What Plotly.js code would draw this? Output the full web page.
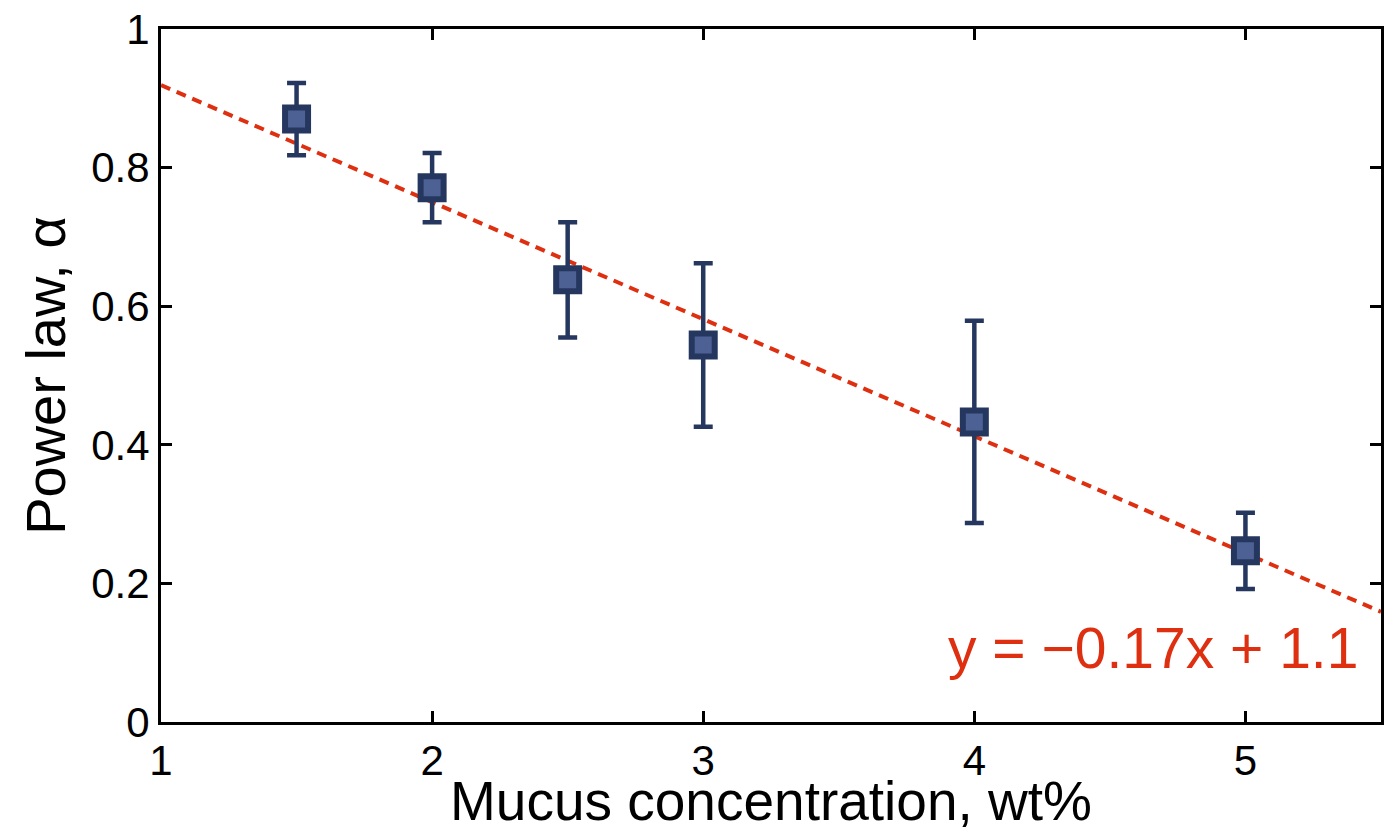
<!DOCTYPE html>
<html>
<head>
<meta charset="utf-8">
<script src="https://cdn.plot.ly/plotly-3.0.1.min.js"></script>
<style>html,body{margin:0;padding:0;background:#fff;}#chart{width:1395px;height:829px;}</style>
</head>
<body>
<div id="chart"></div>
<script>
// Data
const concentration = [1.5, 2, 2.5, 3, 4, 5];
const alpha = [0.870, 0.771, 0.638, 0.544, 0.433, 0.247];
const alphaErr = [0.052, 0.050, 0.083, 0.118, 0.146, 0.055];
const fitX = [1, 5.5];
const fitY = [0.919, 0.159];
const xTicks = [1, 2, 3, 4, 5];
const yTicks = [0, 0.2, 0.4, 0.6, 0.8, 1];
const yTickText = ['0', '0.2', '0.4', '0.6', '0.8', '1'];
const xTitle = 'Mucus concentration, wt%';
const yTitle = 'Power law, \u03b1';
const equationText = 'y = \u22120.17x + 1.1';

const navy = '#26375f';
const fill = '#4d6194';
const red = '#de3010';
const font = 'Liberation Sans, Arial, Helvetica, sans-serif';

const traces = [
  {
    x: fitX, y: fitY, type: 'scatter', mode: 'lines',
    line: {color: red, width: 4, dash: '10px,7px'},
    hoverinfo: 'skip', showlegend: false
  },
  {
    x: concentration, y: alpha, type: 'scatter', mode: 'markers',
    marker: {symbol: 'square', size: 23, color: fill, line: {color: navy, width: 6}},
    error_y: {type: 'data', array: alphaErr, visible: true, color: navy, thickness: 4.5, width: 9.5},
    showlegend: false
  }
];

const axisCommon = {
  showline: true, linecolor: '#000', linewidth: 3, mirror: 'ticks',
  ticks: 'inside', ticklen: 11, tickwidth: 3, tickcolor: '#000',
  showgrid: false, zeroline: false,
  tickfont: {family: font, size: 42, color: '#000'}
};

const layout = {
  width: 1395, height: 829,
  margin: {l: 161, r: 14, t: 29, b: 107},
  paper_bgcolor: '#fff', plot_bgcolor: '#fff',
  xaxis: Object.assign({}, axisCommon, {
    range: [1, 5.5], tickvals: xTicks, ticktext: xTicks.map(String)
  }),
  yaxis: Object.assign({}, axisCommon, {
    range: [0, 1], tickvals: yTicks, ticktext: yTickText,
    title: {text: yTitle, font: {family: font, size: 56, color: '#000'}, standoff: 8}
  }),
  annotations: [
    {
      xref: 'paper', yref: 'paper', x: 0.5, y: -0.066,
      xanchor: 'center', yanchor: 'top', showarrow: false,
      text: xTitle, font: {family: font, size: 55, color: '#000'}
    },
    {
      xref: 'paper', yref: 'paper', x: 0.983, y: 0.058,
      xanchor: 'right', yanchor: 'bottom', showarrow: false,
      text: equationText, font: {family: font, size: 57, color: red}
    }
  ]
};

Plotly.newPlot('chart', traces, layout, {displayModeBar: false, staticPlot: true});
</script>
</body>
</html>
